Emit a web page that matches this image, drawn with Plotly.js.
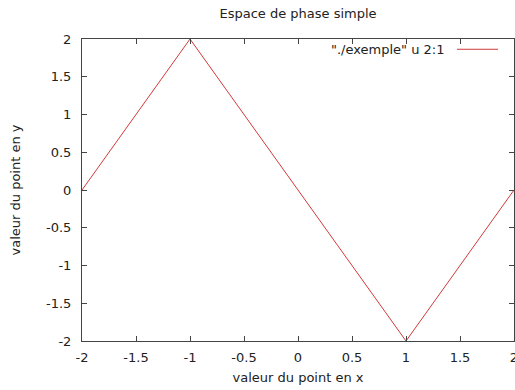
<!DOCTYPE html>
<html>
<head>
<meta charset="utf-8">
<script src="https://cdn.plot.ly/plotly-3.0.1.min.js"></script>
<style>html,body{margin:0;padding:0;background:#fff;}#chart{width:515px;height:390px;}</style>
</head>
<body>
<div id="chart"></div>
<script>
const xValues = [-2, -1, 0, 1, 2];
const yValues = [0, 2, 0, -2, 0];
const xTicks = [-2, -1.5, -1, -0.5, 0, 0.5, 1, 1.5, 2];
const yTicks = [-2, -1.5, -1, -0.5, 0, 0.5, 1, 1.5, 2];
const seriesName = '"./exemple" u 2:1';
const chartTitle = 'Espace de phase simple';
const xTitle = 'valeur du point en x';
const yTitle = 'valeur du point en y';

const font = {family: 'DejaVu Sans, sans-serif', size: 13, color: '#222'};
const axisCommon = {
  showgrid: false, zeroline: false, showline: true, linecolor: '#444', linewidth: 1,
  mirror: 'ticks', ticks: 'inside', ticklen: 5, tickcolor: '#444',
  tickmode: 'array', tickfont: font, ticklabeloverflow: 'allow'
};

const data = [{
  x: xValues, y: yValues, type: 'scatter', mode: 'lines',
  line: {color: '#d03a3a', width: 1}, name: seriesName, showlegend: false
}];

const layout = {
  width: 515, height: 390,
  margin: {l: 82, r: 1, t: 39, b: 49},
  paper_bgcolor: '#fff', plot_bgcolor: '#fff',
  font: font,
  title: {text: chartTitle, font: font, x: 0.5, xref: 'paper', y: 0.965, yref: 'container', xanchor: 'center', yanchor: 'middle'},
  xaxis: Object.assign({}, axisCommon, {range: [-2, 2], tickvals: xTicks, ticktext: xTicks.map(String),
    ticklabelstandoff: 4, title: {text: xTitle, font: font, standoff: 9}}),
  yaxis: Object.assign({}, axisCommon, {range: [-2, 2], tickvals: yTicks, ticktext: yTicks.map(String),
    ticklabelstandoff: 7, title: {text: yTitle, font: font, standoff: 22}}),
  annotations: [{
    text: seriesName, xref: 'paper', yref: 'paper', x: 0.843, y: 0.966,
    xanchor: 'right', yanchor: 'middle', showarrow: false, font: font
  }],
  shapes: [{
    type: 'line', xref: 'paper', yref: 'paper', x0: 0.868, x1: 0.963, y0: 0.966, y1: 0.966,
    line: {color: '#d03a3a', width: 1}
  }]
};

Plotly.newPlot('chart', data, layout, {staticPlot: true, displayModeBar: false});
</script>
</body>
</html>
